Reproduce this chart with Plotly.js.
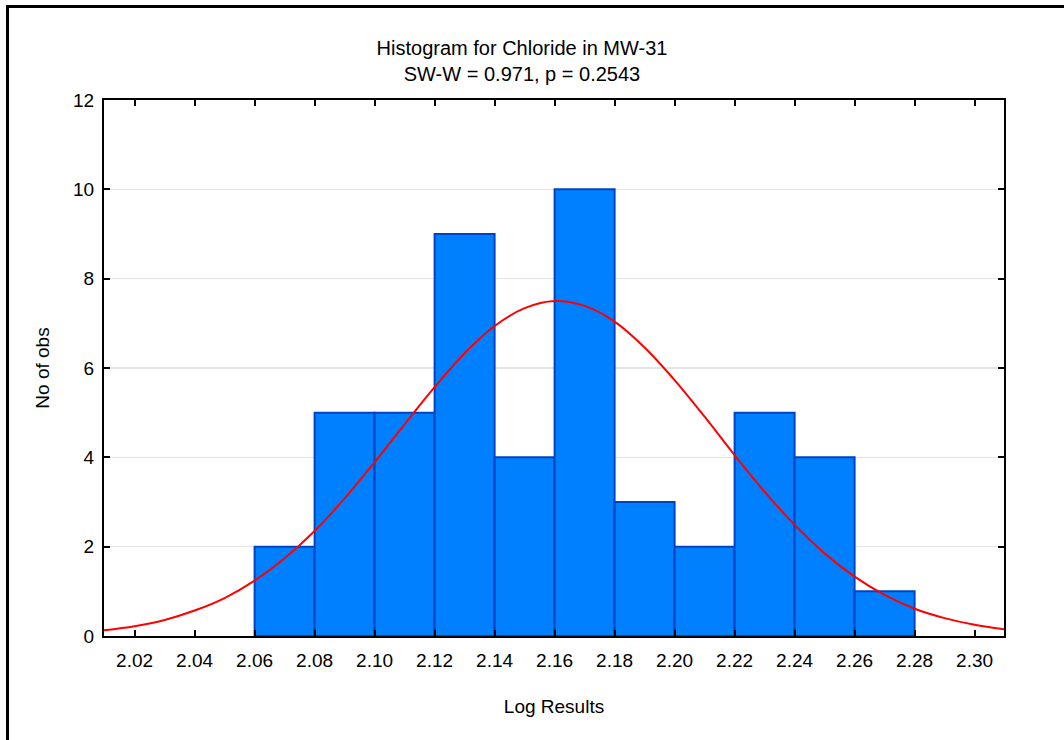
<!DOCTYPE html>
<html>
<head>
<meta charset="utf-8">
<script src="https://cdn.plot.ly/plotly-3.0.1.min.js"></script>
<style>
html,body{margin:0;padding:0;background:#fff;overflow:hidden;}
#wrap{position:relative;width:1064px;height:740px;overflow:hidden;}
#chart{position:absolute;left:0;top:0;width:1064px;height:740px;}
#frame{position:absolute;left:6px;top:5px;width:1200px;height:900px;border:3px solid #000;pointer-events:none;}
</style>
</head>
<body>
<div id="wrap"><div id="chart"></div><div id="frame"></div></div>
<script>
// Histogram bins (lower edge, upper edge) and counts
const binStart = [2.06, 2.08, 2.10, 2.12, 2.14, 2.16, 2.18, 2.20, 2.22, 2.24, 2.26];
const binEnd   = [2.08, 2.10, 2.12, 2.14, 2.16, 2.18, 2.20, 2.22, 2.24, 2.26, 2.28];
const counts   = [2, 5, 5, 9, 4, 10, 3, 2, 5, 4, 1];

// Fitted normal curve
const curveX = [2.0098, 2.02, 2.03, 2.04, 2.05, 2.06, 2.07, 2.08, 2.09, 2.10, 2.11, 2.12, 2.13, 2.14, 2.15, 2.16,
                2.17, 2.18, 2.19, 2.20, 2.21, 2.22, 2.23, 2.24, 2.25, 2.26, 2.27, 2.28, 2.29, 2.30, 2.3098];
const curveY = [0.13, 0.22, 0.36, 0.57, 0.85, 1.24, 1.74, 2.35, 3.08, 3.89, 4.74, 5.57, 6.33, 6.94, 7.34, 7.50,
                7.39, 7.04, 6.46, 5.73, 4.91, 4.05, 3.23, 2.49, 1.85, 1.33, 0.92, 0.61, 0.40, 0.25, 0.15];

const xTicks = [2.02, 2.04, 2.06, 2.08, 2.10, 2.12, 2.14, 2.16, 2.18, 2.20, 2.22, 2.24, 2.26, 2.28, 2.30];
const yTicks = [0, 2, 4, 6, 8, 10, 12];

const titleText = 'Histogram for Chloride in MW-31<br>SW-W = 0.971, p = 0.2543';
const xTitle = 'Log Results';
const yTitle = 'No of obs';

const centers = binStart.map((s, i) => (s + binEnd[i]) / 2);
const widths = binStart.map((s, i) => binEnd[i] - s);

const FONT = 'Liberation Sans, Arial, sans-serif';

const traces = [
  {
    type: 'bar',
    x: centers,
    y: counts,
    width: widths,
    marker: {color: '#0080ff', line: {color: '#0044c4', width: 2}},
    hoverinfo: 'x+y'
  },
  {
    type: 'scatter',
    mode: 'lines',
    x: curveX,
    y: curveY,
    line: {color: '#ff0000', width: 2, shape: 'spline'},
    hoverinfo: 'skip'
  }
];

const layout = {
  width: 1064,
  height: 740,
  margin: {l: 104, r: 60, t: 100, b: 104, pad: 0},
  paper_bgcolor: '#ffffff',
  plot_bgcolor: '#ffffff',
  showlegend: false,
  font: {family: FONT, color: '#000', size: 19},
  title: {
    text: titleText,
    font: {family: FONT, size: 20, color: '#000'},
    x: 0.4906, xref: 'container', xanchor: 'center',
    y: 0.926, yref: 'container', yanchor: 'middle'
  },
  xaxis: {
    range: [2.0098, 2.3098],
    tickmode: 'array',
    tickvals: xTicks,
    ticktext: xTicks.map(v => v.toFixed(2)),
    ticks: 'inside', ticklen: 6, tickwidth: 2, tickcolor: '#000',
    ticklabelstandoff: 6,
    showline: true, linecolor: '#000', linewidth: 2, mirror: 'allticks',
    showgrid: false, zeroline: false,
    tickfont: {family: FONT, size: 19, color: '#000'},
    title: {text: xTitle, font: {family: FONT, size: 19, color: '#000'}, standoff: 30}
  },
  yaxis: {
    range: [0, 12],
    tickmode: 'array',
    tickvals: yTicks,
    ticktext: yTicks.map(v => String(v)),
    ticks: 'inside', ticklen: 6, tickwidth: 2, tickcolor: '#000',
    ticklabelstandoff: 4,
    showline: true, linecolor: '#000', linewidth: 2, mirror: 'allticks',
    showgrid: true, gridcolor: '#e4e4e4', gridwidth: 1.5, zeroline: false,
    tickfont: {family: FONT, size: 19, color: '#000'},
    title: {text: yTitle, font: {family: FONT, size: 19, color: '#000'}, standoff: 18}
  },
  bargap: 0
};

Plotly.newPlot('chart', traces, layout, {displayModeBar: false, staticPlot: true});
</script>
</body>
</html>
